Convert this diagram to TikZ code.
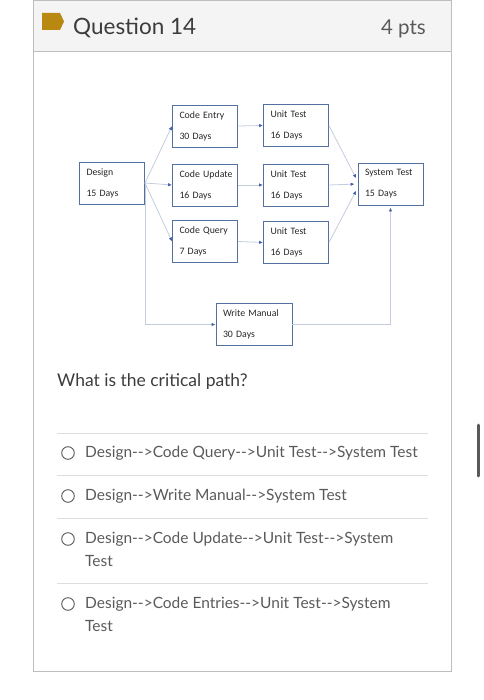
\documentclass[tikz,border=0pt]{standalone}
\usepackage{fontspec}
\newfontfamily\latofont{Lato}
\newfontfamily\boxfont{Carlito}
\usetikzlibrary{arrows.meta}
\definecolor{boxblue}{RGB}{84,112,160}
\definecolor{linegrey}{RGB}{196,204,220}
\definecolor{tipblue}{RGB}{70,100,165}
\definecolor{cardgrey}{RGB}{190,190,190}
\definecolor{headfill}{RGB}{244,244,244}
\definecolor{flaggold}{RGB}{185,136,16}
\definecolor{rulegrey}{RGB}{221,221,221}
\definecolor{textgrey}{RGB}{60,60,60}
\definecolor{optgrey}{RGB}{90,90,90}
\tikzstyle{task}=[draw=boxblue, line width=0.9pt, minimum height=42pt, minimum width=65pt, text width=51pt, align=left, inner sep=0pt, text=black!85, font=\boxfont\fontsize{9.8}{21}\selectfont, execute at begin node={\hyphenpenalty=10000\relax}]
\tikzstyle{link}=[linegrey, line width=0.8pt, -{Latex[length=4pt,width=3.5pt,color=tipblue]}]
\tikzstyle{option}=[anchor=base west, inner sep=0pt, align=left, text=optgrey, font=\latofont\fontsize{15.5}{23}\selectfont]

\begin{document}
\begin{tikzpicture}[x=1pt, y=-1pt]
\useasboundingbox (0,0) rectangle (483,700);
% Card
    \fill[headfill] (33,0) rectangle (451,51);
    \draw[cardgrey] (33,0.5) rectangle (451,671);
    \draw[cardgrey] (33,51) -- (451,51);
    \fill[flaggold] (42,13) -- (60,13) -- (64,21.5) -- (60,30) -- (42,30) -- cycle;
    \node[anchor=base west, inner sep=0pt, text=textgrey, font=\latofont\fontsize{22.5}{22.5}\selectfont] (title) at (73,35) {Question 14};
    \node[anchor=base east, inner sep=0pt, text=optgrey, font=\latofont\fontsize{20.5}{20.5}\selectfont] (points) at (426,35) {4 pts};
% Tasks
    \node[task] (design) at (112,183) {Design\\15 Days};
    \node[task] (centry) at (205,126) {Code~Entry\\30 Days};
    \node[task] (cupdate) at (205,185) {Code~Update\\16 Days};
    \node[task] (cquery) at (205,241.5) {Code~Query\\7 Days};
    \node[task] (utest1) at (296,125.5) {Unit Test\\16 Days};
    \node[task] (utest2) at (296,185) {Unit Test\\16 Days};
    \node[task] (utest3) at (296,242.5) {Unit Test\\16 Days};
    \node[task] (stest) at (390.5,184) {System~Test\\15 Days};
    \node[task, minimum width=76pt, text width=62pt] (wmanual) at (254,324.5) {Write~Manual\\30 Days};
% Links
    \draw[link] (design.east) -- (centry.west);
    \draw[link] (design.east) -- (cupdate.west);
    \draw[link] (design.east) -- (cquery.west);
    \draw[link] (design.east) |- (wmanual.west);
    \draw[link] (centry.east) -- (utest1.west);
    \draw[link] (cupdate.east) -- (utest2.west);
    \draw[link] (cquery.east) -- (utest3.west);
    \draw[link, shorten >=3pt] (utest1.east) -- ([yshift=3pt]stest.west);
    \draw[link, shorten >=3pt] (utest2.east) -- (stest.west);
    \draw[link, shorten >=3pt] (utest3.east) -- ([yshift=-4pt]stest.west);
    \draw[link, shorten >=2pt] (wmanual.east) -| (stest.south);
% Question
    \node[anchor=base west, inner sep=0pt, text=textgrey, font=\latofont\fontsize{17.5}{17.5}\selectfont] (question) at (57,386) {What is the critical path?};
% Answers
    \foreach \y in {433,475,518,583}
        \draw[rulegrey] (57,\y) -- (428,\y);
    \foreach \y in {453,496,539,604}
        \draw[optgrey, line width=0.9pt] (68,\y) circle (6.3);
    \node[option] (opt1) at (85,457) {Design-->Code Query-->Unit Test-->System Test};
    \node[option] (opt2) at (85,500) {Design-->Write Manual-->System Test};
    \node[option] (opt3) at (85,566) {Design-->Code Update-->Unit Test-->System\\Test};
    \node[option] (opt4) at (85,631) {Design-->Code Entries-->Unit Test-->System\\Test};
% Scroll bar
    \draw[line width=3pt, line cap=round, black!65] (478,425) -- (478,476);
\end{tikzpicture}
\end{document}
